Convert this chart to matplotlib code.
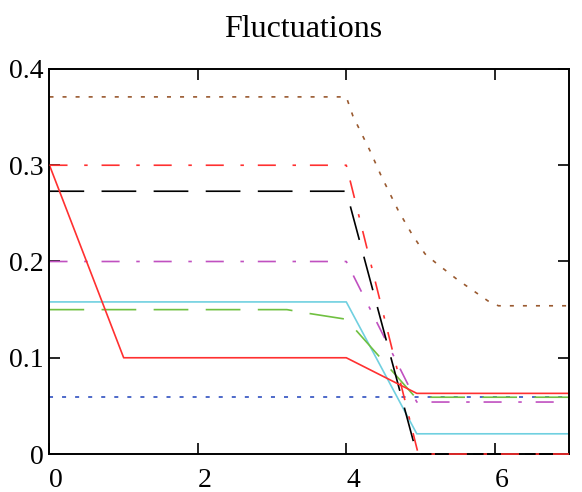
import matplotlib
matplotlib.use("Agg")
import matplotlib.pyplot as plt

# data
brown_x = [0, 4.0, 4.09, 4.32, 4.47, 4.7, 4.88, 5.06, 5.2, 5.5, 5.78, 5.91, 6.05, 7]
brown_y = [0.371, 0.371, 0.351, 0.315, 0.289, 0.253, 0.229, 0.208, 0.199, 0.181, 0.166, 0.159, 0.154, 0.154]

reddd_x = [0, 4.0, 4.97, 7]
reddd_y = [0.3, 0.3, 0.0, 0.0]

black_x = [0, 4.0, 4.95, 7]
black_y = [0.273, 0.273, 0.0, 0.0]

magenta_x = [0, 4.0, 4.95, 7]
magenta_y = [0.2, 0.2, 0.054, 0.054]

cyan_x = [0, 4.0, 4.95, 7]
cyan_y = [0.158, 0.158, 0.021, 0.021]

green_x = [0, 3.2, 3.5, 4.0, 4.93, 7]
green_y = [0.15, 0.15, 0.146, 0.14, 0.059, 0.059]

red_x = [0, 1.0, 4.0, 4.95, 7]
red_y = [0.3, 0.1, 0.1, 0.063, 0.063]

blue_x = [0, 7]
blue_y = [0.059, 0.059]

xticks = [0, 2, 4, 6]
yticks = [0, 0.1, 0.2, 0.3, 0.4]
ytick_labels = ["0", "0.1", "0.2", "0.3", "0.4"]

plt.rcParams['font.family'] = ['Liberation Serif', 'DejaVu Serif']
plt.rcParams['lines.scale_dashes'] = False

fig = plt.figure(figsize=(5.82, 4.92), dpi=100)
ax = fig.add_axes([0.085, 0.0772, 0.8925, 0.7826])

lw = 1.2
dotted = (0, (2.9, 6.5))
dashed = (0, (25, 12.5))
dashdot = (0, (13, 12, 2.5, 10))

ax.plot(blue_x, blue_y, color='#3050c0', lw=lw, linestyle=dotted, clip_on=False)
ax.plot(cyan_x, cyan_y, color='#70d0e0', lw=lw, clip_on=False)
ax.plot(green_x, green_y, color='#70c040', lw=lw, linestyle=dashed, clip_on=False)
ax.plot(magenta_x, magenta_y, color='#c050c0', lw=lw, linestyle=dashdot, clip_on=False)
ax.plot(black_x, black_y, color='black', lw=lw, linestyle=dashed, clip_on=False)
ax.plot(red_x, red_y, color='#ff3030', lw=lw, clip_on=False)
ax.plot(reddd_x, reddd_y, color='#ff3030', lw=lw, linestyle=dashdot, clip_on=False, zorder=3)
ax.plot(brown_x, brown_y, color='#9a5a30', lw=lw, linestyle=dotted, clip_on=False)

ax.set_xlim(0, 7)
ax.set_ylim(0, 0.4)
ax.set_xticks(xticks)
ax.set_xticklabels([str(t) for t in xticks], ha='left')
ax.set_yticks(yticks)
ax.set_yticklabels(ytick_labels)

ax.tick_params(direction='in', length=8, width=1.2, top=True, right=True,
               labelsize=20, colors='black', pad=4)
ax.tick_params(axis='x', pad=10)
for s in ax.spines.values():
    s.set_linewidth(1.4)

ax.set_title('Fluctuations', fontsize=23, pad=23, x=0.488)

fig.savefig('out.png', dpi=100)
